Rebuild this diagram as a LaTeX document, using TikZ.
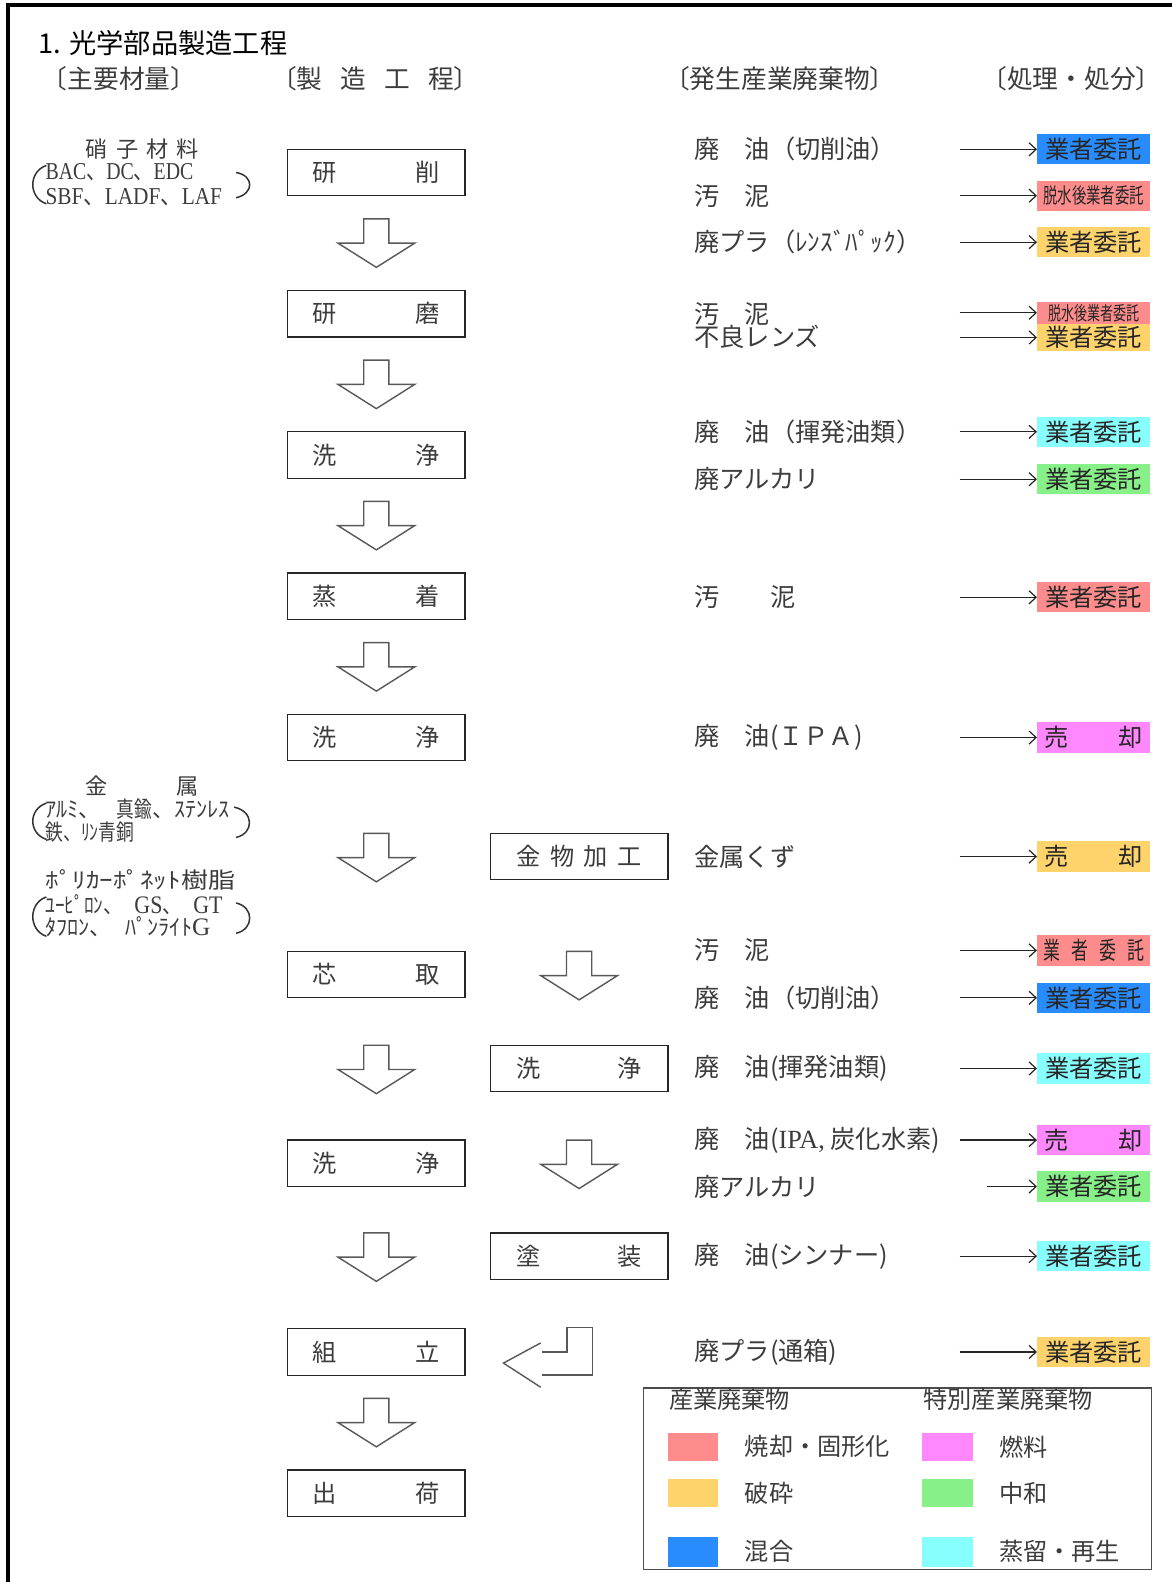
\documentclass[tikz,border=0pt]{standalone}
\usepackage{fontspec}
\setmainfont{Noto Sans CJK JP}
\newfontfamily\lat{Liberation Serif}
\usetikzlibrary{arrows.meta}
\definecolor{cblue}{RGB}{40,140,255}
\definecolor{cpink}{RGB}{255,140,140}
\definecolor{cyel}{RGB}{255,211,107}
\definecolor{cmag}{RGB}{255,136,255}
\definecolor{cgreen}{RGB}{136,240,136}
\definecolor{ccyan}{RGB}{136,255,255}
\definecolor{txt}{RGB}{60,60,60}
\newcommand\fs[1]{\fontsize{#1}{#1}\selectfont}
\newcommand\dnarr[2]{\draw[blk] (#1-12.5,#2) -- (#1+12.5,#2) -- (#1+12.5,#2+24) -- (#1+38,#2+24) -- (#1,#2+48) -- (#1-38,#2+24) -- (#1-12.5,#2+24) -- cycle;}
\newcommand\spr[2]{\makebox[#1pt][s]{#2}}
\begin{document}
\begin{tikzpicture}[x=1pt,y=-1pt,
  every node/.style={text=txt,inner sep=0pt},
  proc/.style={draw=black!85,line width=1.3pt,minimum width=176pt,minimum height=46pt,font=\fs{24}},
  disp/.style={minimum width=112pt,minimum height=30pt,font=\fs{24},text=black!85},
  wl/.style={anchor=west,font=\fs{25}},
  hd/.style={font=\fs{25.5}},
  mat/.style={font=\fs{22}},
  matl/.style={anchor=west,font=\fs{22}},
  arr/.style={draw=black!85,line width=1.2pt,-{Straight Barb[length=7pt,width=13pt,line width=1.2pt]}},
  blk/.style={draw=black!65,line width=1.4pt,fill=white},
  lg/.style={anchor=west,font=\fs{24}}]
\useasboundingbox (0,0) rectangle (1162,1568);
% frame
\draw[line width=4pt] (8,5) -- (1162,5);
\draw[line width=4pt] (8,3) -- (8,1568);
% title and headers
\node[anchor=west,font=\fs{27},text=black] (title) at (38,43) {1. 光学部品製造工程};
\node[hd] (h1) at (118,78) {〔主要材量〕};
\node[hd] (h2) at (372,78) {〔製\hspace{0.7em}造\hspace{0.7em}工\hspace{0.7em}程〕};
\node[hd] (h3) at (773,78) {〔発生産業廃棄物〕};
\node[hd] (h4) at (1062,78) {〔処理・処分〕};
% materials
\node[mat] (m1) at (141,148) {\spr{112}{硝\hfill{}子\hfill{}材\hfill{}料}};
\node[matl] (m2) at (45,171) {\scalebox{0.82}[1]{\fs{24}{\lat BAC}、{\lat DC}、{\lat EDC}}};
\node[matl] (m3) at (45,195) {\scalebox{0.88}[1]{\fs{24}{\lat SBF}、{\lat LADF}、{\lat LAF}}};
\draw[line width=1.5pt,black!80] (46,164) .. controls (28,170) and (28,196) .. (46,202);
\draw[line width=1.5pt,black!80] (234,171) .. controls (252,174) and (252,192) .. (234,196);
\node[mat] (m4) at (141,779) {\spr{112}{金\hfill{}属}};
\node[matl] (m5) at (45,802) {ｱﾙﾐ、\hspace{0.7em}\scalebox{0.8}[1]{真鍮}、ｽﾃﾝﾚｽ};
\node[matl] (m6) at (45,825) {\scalebox{0.8}[1]{鉄、ﾘﾝ青銅}};
\draw[line width=1.5pt,black!80] (46,796) .. controls (28,802) and (28,826) .. (46,832);
\draw[line width=1.5pt,black!80] (232,800) .. controls (252,804) and (252,826) .. (234,830);
\node[matl] (m7) at (45,872) {\scalebox{1.22}[1]{ﾎﾟﾘｶｰﾎﾟﾈｯﾄ樹脂}};
\node[matl] (m8) at (45,897) {\scalebox{0.87}[1]{ﾕｰﾋﾟﾛﾝ、\hspace{0.6em}{\lat\fs{25}GS}、\hspace{0.6em}{\lat\fs{25}GT}}};
\node[matl] (m9) at (45,919) {\scalebox{1.0}[1]{ﾀﾌﾛﾝ、\hspace{0.6em}ﾊﾟﾝﾗｲﾄ{\lat\fs{25}G}}};
\draw[line width=1.5pt,black!80] (46,889) .. controls (28,895) and (28,922) .. (46,928);
\draw[line width=1.5pt,black!80] (234,895) .. controls (252,899) and (252,921) .. (234,925);
% process boxes (left)
\node[proc] (p1) at (373,171) {\spr{126}{研\hfill{}削}};
\node[proc] (p2) at (373,311) {\spr{126}{研\hfill{}磨}};
\node[proc] (p3) at (373,451) {\spr{126}{洗\hfill{}浄}};
\node[proc] (p4) at (373,591) {\spr{126}{蒸\hfill{}着}};
\node[proc] (p5) at (373,731) {\spr{126}{洗\hfill{}浄}};
\node[proc] (p6) at (373,966) {\spr{126}{芯\hfill{}取}};
\node[proc] (p7) at (373,1153) {\spr{126}{洗\hfill{}浄}};
\node[proc] (p8) at (373,1340) {\spr{126}{組\hfill{}立}};
\node[proc] (p9) at (373,1480) {\spr{126}{出\hfill{}荷}};
% process boxes (right)
\node[proc] (q1) at (574,849) {\spr{124}{金\hfill{}物\hfill{}加\hfill{}工}};
\node[proc] (q2) at (574,1059) {\spr{124}{洗\hfill{}浄}};
\node[proc] (q3) at (574,1245) {\spr{124}{塗\hfill{}装}};
% block arrows
\dnarr{373}{217}
\dnarr{373}{357}
\dnarr{373}{497}
\dnarr{373}{637}
\dnarr{373}{826}
\dnarr{373}{1036}
\dnarr{373}{1222}
\dnarr{373}{1386}
\dnarr{574}{943}
\dnarr{574}{1130}
\draw[blk,fill=none,line join=miter] (536,1331) -- (499,1351) -- (536,1375);
\draw[blk,fill=none] (537,1340) -- (562,1340) -- (562,1316) -- (587,1316) -- (587,1363) -- (537,1363);
% waste labels
\node[wl] (w1) at (688,148) {廃　油（切削油）};
\node[wl] (w2) at (688,194) {汚　泥};
\node[wl] (w3) at (688,240) {廃プラ（ﾚﾝｽﾞﾊﾟｯｸ）};
\node[wl] (w4) at (688,311) {汚　泥};
\node[wl] (w5) at (688,334) {不良レンズ};
\node[wl] (w6) at (688,428) {廃　油（揮発油類）};
\node[wl] (w7) at (688,475) {廃アルカリ};
\node[wl] (w8) at (688,592) {汚　　泥};
\node[wl] (w9) at (688,731) {廃　油(ＩＰＡ)};
\node[wl] (w10) at (688,849) {金属くず};
\node[wl] (w11) at (688,942) {汚　泥};
\node[wl] (w12) at (688,989) {廃　油（切削油）};
\node[wl] (w13) at (688,1059) {廃　油(揮発油類)};
\node[wl] (w14) at (688,1130) {廃　油({\lat\fs{26}IPA,} 炭化水素)};
\node[wl] (w15) at (688,1176) {廃アルカリ};
\node[wl] (w16) at (688,1245) {廃　油(シンナー)};
\node[wl] (w17) at (688,1340) {廃プラ(通箱)};
% disposal boxes
\node[disp,fill=cblue] (d1) at (1084,148) {業者委託};
\node[disp,fill=cpink] (d2) at (1084,194) {\scalebox{0.68}[1]{\fs{21}脱水後業者委託}};
\node[disp,fill=cyel] (d3) at (1084,240) {業者委託};
\node[disp,fill=cpink,minimum height=22pt] (d4) at (1084,310) {\scalebox{0.68}[1]{\fs{19}脱水後業者委託}};
\node[disp,fill=cyel,minimum height=27pt] (d5) at (1084,334.5) {業者委託};
\node[disp,fill=ccyan] (d6) at (1084,428) {業者委託};
\node[disp,fill=cgreen] (d7) at (1084,475) {業者委託};
\node[disp,fill=cpink] (d8) at (1084,592) {業者委託};
\node[disp,fill=cmag] (d9) at (1084,731) {\spr{98}{売\hfill{}却}};
\node[disp,fill=cyel] (d10) at (1084,849) {\spr{98}{売\hfill{}却}};
\node[disp,fill=cpink] (d11) at (1084,942) {\spr{100}{\scalebox{0.7}[1]{業}\hfill\scalebox{0.7}[1]{者}\hfill\scalebox{0.7}[1]{委}\hfill\scalebox{0.7}[1]{託}}};
\node[disp,fill=cblue] (d12) at (1084,989) {業者委託};
\node[disp,fill=ccyan] (d13) at (1084,1059) {業者委託};
\node[disp,fill=cmag] (d14) at (1084,1130) {\spr{98}{売\hfill{}却}};
\node[disp,fill=cgreen] (d15) at (1084,1176) {業者委託};
\node[disp,fill=ccyan] (d16) at (1084,1245) {業者委託};
\node[disp,fill=cyel] (d17) at (1084,1340) {業者委託};
% arrows
\coordinate (ax) at (951,0);
\coordinate (bx) at (978,0);
\foreach \d in {d1,d2,d3,d6,d7,d8,d9,d10,d11,d12,d13,d14,d16,d17}
  \draw[arr] (\d.west -| ax) -- (\d.west);
\draw[arr] (d4.west -| ax) -- (d4.west);
\draw[arr] (d5.west -| ax) -- (d5.west);
\draw[arr] (d15.west -| bx) -- (d15.west);
% legend
\node[draw=black!70,line width=1.2pt,minimum width=504pt,minimum height=180pt,anchor=north west] (leg) at (637,1375) {};
\node[lg] (lt1) at (663,1387) {産業廃棄物};
\node[lg] (lt2) at (915,1387) {特別産業廃棄物};
\node[fill=cpink,minimum width=50pt,minimum height=28pt] (s1) at (687,1434) {};
\node[fill=cyel,minimum width=50pt,minimum height=28pt] (s2) at (687,1480) {};
\node[fill=cblue,minimum width=50pt,minimum height=30pt] (s3) at (687,1538) {};
\node[fill=cmag,minimum width=50pt,minimum height=28pt] (s4) at (939,1434) {};
\node[fill=cgreen,minimum width=50pt,minimum height=28pt] (s5) at (939,1480) {};
\node[fill=ccyan,minimum width=50pt,minimum height=30pt] (s6) at (939,1538) {};
\node[lg] (l1) at (738,1434) {焼却・固形化};
\node[lg] (l2) at (738,1480) {破砕};
\node[lg] (l3) at (738,1538) {混合};
\node[lg] (l4) at (990,1434) {燃料};
\node[lg] (l5) at (990,1480) {中和};
\node[lg] (l6) at (990,1538) {蒸留・再生};
\end{tikzpicture}
\end{document}
